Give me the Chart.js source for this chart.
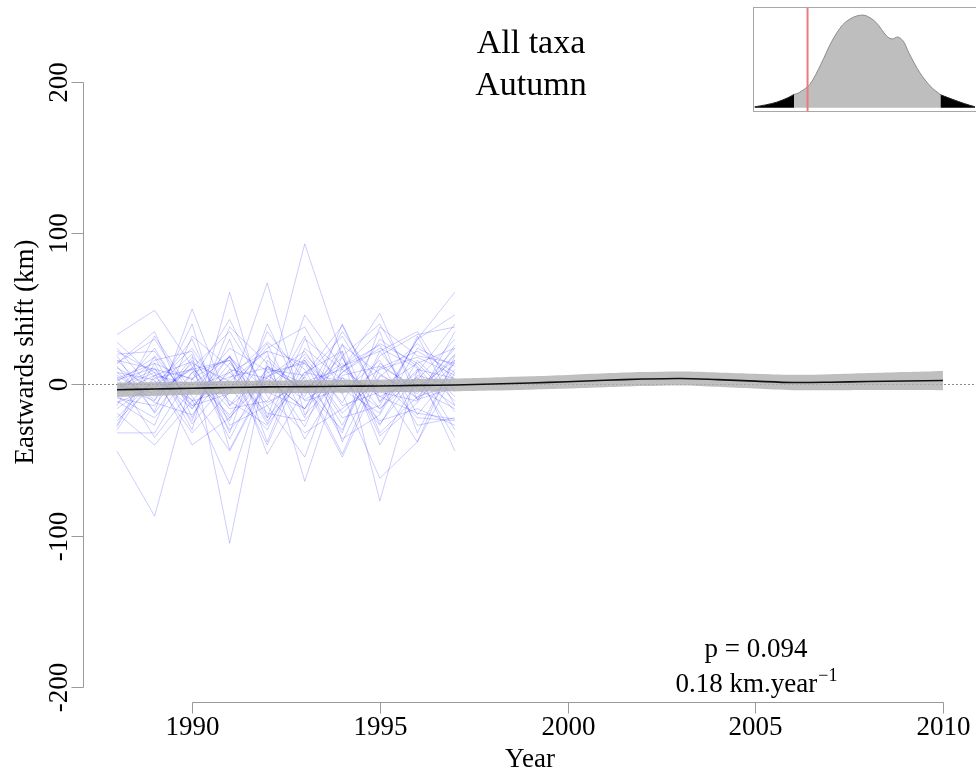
<!DOCTYPE html>
<html>
<head>
<meta charset="utf-8">
<script src="https://cdn.jsdelivr.net/npm/chart.js@4"></script>
<style>
  html, body { margin: 0; padding: 0; background: #fff; }
  #wrap { position: relative; width: 976px; height: 773px; overflow: hidden; }
  #main { position: absolute; left: 0; top: 0; }
  #inset { position: absolute; left: 753px; top: 7px; }
</style>
</head>
<body>
<div id="wrap">
  <canvas id="main" width="976" height="773"></canvas>
  <canvas id="inset" width="225" height="105"></canvas>
</div>
<script>
// ---- data -------------------------------------------------------------
const titleLines = ['All taxa', 'Autumn'];
const xTicks = [1990, 1995, 2000, 2005, 2010];
const yTicks = [-200, -100, 0, 100, 200];

// years covered by the individual taxa series
const taxaYears = [1988, 1989, 1990, 1991, 1992, 1993, 1994, 1995, 1996, 1997];
// eastwards shift (km) of each taxon, one row per taxon
const taxaShifts = [
  [ 33,  49,  12, -22,   8,  14,  -6,  10,  18,   6],
  [-44, -87,   4,  18, -12,   2,  10,  -8,   4, -14],
  [ 12, -18,  50, -14,   6, -10,   4,  -2,  14,  24],
  [  4,  14, -30,  61, -22,   8,   2, -16,  10,   4],
  [-12,  -2,  20,-105,  16,  -6,  12,  22, -10,  -2],
  [ -2,  10, -14,  -6,  67, -20,   6,  12,  -2,  16],
  [ -6,   6,   0,  18,  -4,  93,  18, -26,   6,  -1],
  [  6, -10,  14,   2,  22, -64,  12,  26, -20,  10],
  [ 16,  10,   4, -20,  10,   6,  39, -12,  30,  61],
  [-16,   2, -10, -66,  12,   0, -48,   6,  -6,  20],
  [  0,  -6,  10,  16, -26,  30,  10,  47, -10,  14],
  [  8, -12, -20,  10,   4, -16,  22, -77,  10, -44],
  [-22,   4,  10, -30,  -2,  20,  -6, -62, -38,   8],
  [ 20,  22, -14,   8,  22,  14, -27,  19,  33,  38],
  [-32, -32,   8,  16, -24,   5,  32,  -8, -19, -23],
  [ 14,  30,  -8, -44,   3, -16,   8,  24,  11, -30],
  [-11, -27,  32,  11, -40,  16, -19,   5,  27,   3],
  [  3,  11, -24,  38,  14, -36,   5, -27,  16,  -8],
  [ 24,  -5,  11, -16, -11,  32, -38,  14,  -5,  24],
  [ -5,  16,  22, -32,  40, -11,  -3, -19,  32, -14],
  [-19, -40, -11,  19, -22,  46,  11,  35, -32,  16],
  [  8,   3, -32,  -5,  27, -22,  40, -11,   8,  40],
  [-28,  14,   3,  43,  -8, -32, -16,   3, -22, -24],
  [ 19, -19,  16, -11, -27,   8,  22, -40,   3,  30],
  [-14,  32,  -5,   5,  11,  -3, -30,  22,  35,  -5],
  [  0, -11,  40, -43,   5,  22, -14,  -5, -11,  35],
  [ 28,   5, -16,  14, -14, -48,  19,  40,  -3, -16],
  [ -8, -22,   8, -24,  35,   3, -46,  11,  22,   8],
  [ 14,  35, -22,  30, -38,  24,   3, -24, -16, -27],
  [-24,   0,  24, -14,  19,  -8,  35,   0, -38,  19],
  [  5, -35,  -3,   8, -19, -24,   8,  27,  14, -11],
  [ -3,   8, -40, -22,   5,  16, -22, -14,  30,  46],
  [ 16,  -8,  11,  35,  -5, -16,  27, -32,  -8,   0],
  [-27,  19, -11,  -3,  24,  38,  -5,  16, -27, -22],
  [ 11,  -3,  30, -27, -14,   5, -32,  38,  19,  14],
  [ -5,  24, -16,  19, -46,  -3,  14, -16,   5, -35],
  [ 22,   8,  -6,  24,   9, -28,  26,   7,  -9,  26],
  [ -9, -14,  18,  -2, -30,  18, -12,  30,  12, -18],
  [  2,  18, -26,   4,  28,  10, -36, -20,  24,  12],
  [-30,   6,  15, -36,  12,  -4,  18, -34, -12,  20]
];

// fitted overall trend and its confidence band
const trendYears = [1988, 1989, 1990, 1991, 1992, 1993, 1994, 1995, 1996, 1997, 1998, 1999,
                    2000, 2001, 2002, 2003, 2004, 2005, 2006, 2007, 2008, 2009, 2010];
const trendShift = [-3.5, -3.0, -2.5, -2.0, -1.6, -1.4, -1.2, -1.0, -0.6, -0.3, 0.3, 1.0,
                    1.8, 2.8, 3.6, 4.0, 3.2, 2.2, 1.3, 1.5, 2.0, 2.3, 2.6];
const trendLower = [-8.3, -7.5, -6.8, -6.3, -5.8, -5.6, -5.4, -5.2, -4.8, -4.5, -4.0, -3.4,
                    -2.7, -1.8, -1.0, -0.6, -1.5, -2.7, -3.8, -3.8, -3.6, -3.7, -3.8];
const trendUpper = [1.3, 1.5, 1.8, 2.3, 2.6, 2.8, 3.0, 3.2, 3.6, 3.9, 4.6, 5.4,
                    6.3, 7.4, 8.2, 8.6, 8.0, 7.1, 6.4, 6.8, 7.6, 8.3, 9.0];

const pValue = '0.094';
const slopeText = '0.18';

// null distribution of the slope (inset)
const nullSlope   = [-0.3, -0.2, -0.1, 0.0, 0.057, 0.1, 0.2, 0.3, 0.4, 0.5, 0.6, 0.7, 0.8,
                     0.9, 0.95, 1.0, 1.05, 1.1, 1.2, 1.3, 1.385, 1.4, 1.5, 1.6, 1.7];
const nullDensity = [0.011, 0.032, 0.061, 0.108, 0.144, 0.162, 0.252, 0.468, 0.719, 0.899, 0.982, 1.0, 0.925,
                     0.773, 0.745, 0.766, 0.719, 0.593, 0.378, 0.227, 0.144, 0.135, 0.090, 0.047, 0.011];
const lowerTail = 0.057;
const upperTail = 1.385;
const observedSlope = 0.18;

// ---- helpers ----------------------------------------------------------
const SERIF = '"Liberation Serif", "DejaVu Serif", serif';
const pts = (xs, ys) => xs.map((x, i) => ({ x: x, y: ys[i] }));

// ---- main plot --------------------------------------------------------
const datasets = [
  { label: 'trend', data: pts(trendYears, trendShift), borderColor: '#111', borderWidth: 1.6,
    pointRadius: 0, tension: 0.3, fill: false, order: 0 },
  { label: 'lower', data: pts(trendYears, trendLower), borderWidth: 0, borderColor: 'rgba(0,0,0,0)',
    pointRadius: 0, tension: 0.3, fill: false, order: 1 },
  { label: 'upper', data: pts(trendYears, trendUpper), borderWidth: 0, borderColor: 'rgba(0,0,0,0)',
    pointRadius: 0, tension: 0.3, fill: 1, backgroundColor: 'rgba(175,175,175,0.8)', order: 1 }
];
taxaShifts.forEach((row, k) => {
  datasets.push({ label: 'taxon ' + (k + 1), data: pts(taxaYears, row),
    borderColor: 'rgba(0,0,255,0.2)', borderWidth: 1, pointRadius: 0, tension: 0,
    fill: false, order: 2 });
});

const rStyle = {
  id: 'rStyle',
  beforeDatasetsDraw(chart) {
    const { ctx, chartArea: a, scales: { y } } = chart;
    const py = Math.round(y.getPixelForValue(0)) + 0.5;
    ctx.save();
    ctx.strokeStyle = '#8a8a8a';
    ctx.lineWidth = 1;
    ctx.setLineDash([2, 2]);
    ctx.beginPath(); ctx.moveTo(a.left, py); ctx.lineTo(a.right, py); ctx.stroke();
    ctx.restore();
  },
  afterDraw(chart) {
    const { ctx, chartArea: a, scales: { x, y } } = chart;
    ctx.save();
    ctx.strokeStyle = '#9a9a9a';
    ctx.lineWidth = 1;
    ctx.fillStyle = '#000';

    // y axis
    const ax = Math.round(a.left) - 0.5;
    const yTop = Math.round(y.getPixelForValue(yTicks[yTicks.length - 1])) + 0.5;
    const yBot = Math.round(y.getPixelForValue(yTicks[0])) + 0.5;
    ctx.beginPath(); ctx.moveTo(ax, yTop); ctx.lineTo(ax, yBot); ctx.stroke();
    ctx.font = '27px ' + SERIF;
    ctx.textAlign = 'center';
    ctx.textBaseline = 'alphabetic';
    yTicks.forEach(v => {
      const py = Math.round(y.getPixelForValue(v)) + 0.5;
      ctx.beginPath(); ctx.moveTo(ax - 12, py); ctx.lineTo(ax, py); ctx.stroke();
      ctx.save(); ctx.translate(67, py); ctx.rotate(-Math.PI / 2);
      ctx.fillText(String(v), 0, 0); ctx.restore();
    });

    // x axis
    const ay = Math.round(a.bottom) + 0.5;
    const xL = Math.round(x.getPixelForValue(xTicks[0])) + 0.5;
    const xR = Math.round(x.getPixelForValue(xTicks[xTicks.length - 1])) + 0.5;
    ctx.beginPath(); ctx.moveTo(xL, ay); ctx.lineTo(xR, ay); ctx.stroke();
    xTicks.forEach(v => {
      const px = Math.round(x.getPixelForValue(v)) + 0.5;
      ctx.beginPath(); ctx.moveTo(px, ay); ctx.lineTo(px, ay + 11); ctx.stroke();
      ctx.fillText(String(v), px, 735);
    });

    // axis titles
    ctx.fillText('Year', (a.left + a.right) / 2, 767);
    ctx.save(); ctx.translate(33, 352); ctx.rotate(-Math.PI / 2);
    ctx.fillText('Eastwards shift (km)', 0, 0); ctx.restore();

    // title
    ctx.font = '34px ' + SERIF;
    ctx.fillText(titleLines[0], 531, 53);
    ctx.fillText(titleLines[1], 531, 95);

    // test statistics
    const cx = 756;
    ctx.font = '27px ' + SERIF;
    ctx.fillText('p = ' + pValue, cx, 657);
    const main = slopeText + ' km.year';
    const sup = '\u22121';
    const w1 = ctx.measureText(main).width;
    ctx.font = '18px ' + SERIF;
    const w2 = ctx.measureText(sup).width;
    const x0 = cx - (w1 + w2) / 2;
    ctx.textAlign = 'left';
    ctx.font = '27px ' + SERIF;
    ctx.fillText(main, x0, 692);
    ctx.font = '18px ' + SERIF;
    ctx.fillText(sup, x0 + w1 + 1, 681);
    ctx.restore();
  }
};

new Chart(document.getElementById('main'), {
  type: 'line',
  data: { datasets },
  options: {
    responsive: false,
    animation: false,
    events: [],
    layout: { padding: { left: 84, right: 0, top: 57.8, bottom: 70.9 } },
    scales: {
      x: { type: 'linear', min: 1987.12, max: 2010.88, display: false },
      y: { type: 'linear', min: -210, max: 216, display: false }
    },
    plugins: { legend: { display: false }, tooltip: { enabled: false } }
  },
  plugins: [rStyle]
});

// ---- inset: null distribution of slopes -------------------------------
const nullPts = pts(nullSlope, nullDensity);
const insetFrame = {
  id: 'insetFrame',
  afterDraw(chart) {
    const { ctx, scales: { x } } = chart;
    const w = chart.width, h = chart.height;
    ctx.save();
    const rx = x.getPixelForValue(observedSlope);
    ctx.strokeStyle = '#ec7a7a';
    ctx.lineWidth = 2;
    ctx.beginPath(); ctx.moveTo(rx, 0); ctx.lineTo(rx, h); ctx.stroke();
    ctx.strokeStyle = '#a8a8a8';
    ctx.lineWidth = 1;
    ctx.strokeRect(0.5, 0.5, w - 1, h - 1);
    ctx.restore();
  }
};

new Chart(document.getElementById('inset'), {
  type: 'line',
  data: {
    datasets: [
      { data: nullPts.filter(p => p.x <= lowerTail), fill: 'origin', backgroundColor: '#000',
        borderColor: '#222', borderWidth: 1, pointRadius: 0, tension: 0.3 },
      { data: nullPts.filter(p => p.x >= lowerTail && p.x <= upperTail), fill: 'origin',
        backgroundColor: '#bebebe', borderColor: '#8c8c8c', borderWidth: 1, pointRadius: 0, tension: 0.3 },
      { data: nullPts.filter(p => p.x >= upperTail), fill: 'origin', backgroundColor: '#000',
        borderColor: '#222', borderWidth: 1, pointRadius: 0, tension: 0.3 }
    ]
  },
  options: {
    responsive: false,
    animation: false,
    events: [],
    layout: { padding: 0 },
    scales: {
      x: { type: 'linear', min: -0.315, max: 1.727, display: false },
      y: { type: 'linear', min: -0.045, max: 1.09, display: false }
    },
    plugins: { legend: { display: false }, tooltip: { enabled: false } }
  },
  plugins: [insetFrame]
});
</script>
</body>
</html>
